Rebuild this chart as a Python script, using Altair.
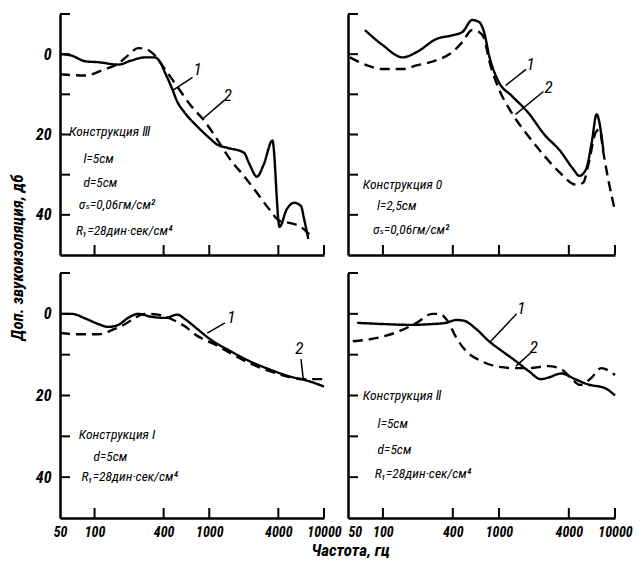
import altair as alt
import pandas as pd

FONT = "Roboto Condensed, Liberation Sans Narrow, DejaVu Sans Condensed, Roboto, sans-serif"

# ---------------- data (frequency, Hz / additional insulation, dB) ----------------
# Panel "Конструкция Ⅲ" (top-left)
tl_f1 = [50, 62, 84, 108, 161, 208, 275, 335, 380, 410, 462, 530, 608, 786, 1015, 1170, 1430, 2000, 2250, 2600, 2980, 3550, 4100, 4700, 5500, 6300, 6700, 7300]
tl_v1 = [0, 0.3, 1.8, 2, 2.6, 1.6, 0.8, 0.8, 2.4, 4.5, 7.8, 12, 14.5, 18, 21, 22.5, 23.3, 24.5, 27.5, 30.5, 27.5, 21.5, 43, 38.8, 37, 37.8, 41, 46]
tl_f2 = [50, 83, 124, 160, 196, 240, 280, 335, 410, 530, 690, 900, 1170, 1520, 2000, 2600, 3350, 4100, 4980, 6100, 8000]
tl_v2 = [5, 5.3, 3.7, 2.4, 0.3, -1.5, -1.3, 0.3, 3.7, 8.2, 12.8, 16.5, 21.2, 26.2, 30.3, 34.5, 38.7, 41.5, 42, 42.8, 45.8]

# Panel "Конструкция 0" (top-right)
tr_f1 = [70, 100, 148, 195, 290, 397, 483, 588, 674, 744, 822, 1000, 1280, 1780, 2460, 3350, 4390, 4920, 5620, 6300, 6940, 7940]
tr_v1 = [-6, -2.2, 0.8, -0.5, -3.8, -4.7, -5.5, -8.5, -8, -5.5, 0.3, 7, 10.3, 14.5, 20, 24, 28.7, 30.3, 28.7, 22, 15, 24]
tr_f2 = [52, 73, 100, 148, 195, 290, 397, 483, 588, 674, 744, 822, 1000, 1280, 1780, 2460, 3350, 4640, 5310, 5950, 6810, 7360, 7940, 8720, 10000]
tr_v2 = [0.8, 2.8, 3.7, 3.7, 2.8, 1.5, -0.5, -3, -6, -5.5, -4, 1.5, 8.7, 14.5, 20.3, 25.3, 29.5, 32.5, 32, 27, 19.5, 18.7, 24.5, 31, 39]

# Panel "Конструкция I" (bottom-left)
bl_f1 = [50, 63, 84, 108, 132, 161, 196, 240, 310, 410, 530, 608, 786, 1015, 1520, 2250, 3350, 4980, 7400, 10000]
bl_v1 = [0, 0, 1.2, 2.5, 3.2, 2.7, 1, 0, 0.7, 1, 0.2, 1.2, 3.7, 6.2, 9.1, 11.6, 13.6, 15.3, 16.5, 17.8]
bl_f2 = [50, 73, 108, 150, 185, 225, 275, 355, 460, 608, 786, 1100, 1520, 2250, 3350, 4700, 6600, 10000]
bl_v2 = [4.7, 5, 5, 3.7, 2.5, 1, 0, 0.2, 1.2, 3, 5.4, 7.4, 9.6, 12.1, 14, 15.3, 16, 16]

# Panel "Конструкция Ⅱ" (bottom-right)
br_f1 = [60, 100, 170, 267, 350, 430, 500, 635, 820, 1060, 1400, 1800, 2300, 2670, 3450, 4530, 5880, 8200, 10000]
br_v1 = [2.2, 2.5, 2.7, 2.5, 2.2, 1.5, 1.7, 3.7, 6.7, 9.1, 11.6, 14, 16, 15.6, 14.6, 16, 17.3, 18.2, 20]
br_f2 = [55, 89, 140, 195, 267, 306, 360, 430, 520, 710, 1000, 1400, 1800, 2670, 3450, 4200, 5000, 6200, 7600, 10000]
br_v2 = [6.7, 5.9, 4.2, 2.2, 0, 0, 1.7, 5.9, 9.1, 11.6, 13, 13.3, 13.3, 12.8, 13.6, 15.8, 17.4, 15.8, 13.3, 15]

# panel notes: (text, freq, dB)
tl_notes_t = ["Конструкция Ⅲ", "l=5см", "d=5см", "σₛ=0,06гм/см²", "R₁=28дин·сек/см⁴"]
tl_notes_f = [60, 80, 80, 73, 69]
tl_notes_v = [19.5, 26, 32, 37.5, 44]
tr_notes_t = ["Конструкция 0", "l=2,5см", "σₛ=0,06гм/см²"]
tr_notes_f = [67, 89, 82]
tr_notes_v = [32.5, 37.8, 43.7]
bl_notes_t = ["Конструкция I", "d=5см", "R₁=28дин·сек/см⁴"]
bl_notes_f = [73, 98, 77]
bl_notes_v = [29.6, 35, 40]
br_notes_t = ["Конструкция Ⅱ", "l=5см", "d=5см", "R₁=28дин·сек/см⁴"]
br_notes_f = [67, 90, 90, 85]
br_notes_v = [20.2, 27, 33.3, 39.3]

# curve markers "1" / "2": label position and leader line (f, v) -> (f2, v2)
tl_lab = {"t": ["1", "2"], "f": [790, 1450], "v": [4, 10.3], "lf": [480, 870], "lv": [9, 16.2], "lf2": [715, 1350], "lv2": [5.8, 11.5]}
tr_lab = {"t": ["1", "2"], "f": [1870, 2680], "v": [2.8, 8.3], "lf": [1140, 1390], "lv": [7.8, 15], "lf2": [1710, 2420], "lv2": [3.8, 9.3]}
bl_lab = {"t": ["1", "2"], "f": [1560, 6100], "v": [1, 8.6], "lf": [960, 6300], "lv": [4.7, 11.1], "lf2": [1370, 6600], "lv2": [2.2, 16]}
br_lab = {"t": ["1", "2"], "f": [1560, 2000], "v": [-1.2, 8.4], "lf": [850, 1400], "lv": [6.7, 12.8], "lf2": [1420, 1870], "lv2": [0, 9.6]}

X_DOMAIN = [50, 10000]
Y_DOMAIN = [-10, 50]
x_tick_vals = [100, 400, 1000, 4000, 10000]
x_label_vals = [50, 100, 400, 1000, 4000, 10000]
y_tick_vals = [-10, 0, 10, 20, 30, 40]
y_label_vals = [0, 20, 40]

Y_TITLE = "Доп. звукоизоляция, дб"
X_TITLE = "Частота, гц"


def panel(f1, v1, f2, v2, nt, nf, nv, lab, w, h, xlab, ylab,
          xtitle=False, ytitle=False, first_left=False):
    xs = alt.Scale(type="log", domain=X_DOMAIN, nice=False)
    ys = alt.Scale(domain=Y_DOMAIN, reverse=True, nice=False, zero=False)

    xa = dict(values=x_label_vals, format="d", labels=xlab, ticks=False, tickSize=0,
              grid=False, domain=True, domainWidth=2.5, domainColor="black",
              labelFont=FONT, labelFontSize=14, labelFontStyle="italic",
              labelFontWeight="bold", labelColor="black", labelPadding=7,
              labelFlush=False, labelOverlap=False, labelBound=False)
    if first_left:
        xa["labelAlign"] = {"condition": {"test": "datum.value <= 50", "value": "left"},
                            "value": "center"}
    if xtitle:
        xa.update(titleX=290, titleY=32, titleAlign="center",
                  titleBaseline="middle", titleFont=FONT, titleFontSize=17,
                  titleFontStyle="italic", titleFontWeight="bold", titleColor="black")
    ya = dict(values=y_label_vals, labels=ylab, ticks=False, tickSize=0, grid=False,
              domain=True, domainWidth=2.5, domainColor="black", labelFont=FONT,
              labelFontSize=16, labelFontStyle="italic", labelFontWeight="bold",
              labelColor="black", labelPadding=9, labelOverlap=False)
    if ytitle:
        ya.update(titleX=-43, titleY=243, titleAlign="center",
                  titleBaseline="middle", titleFont=FONT, titleFontSize=17,
                  titleFontStyle="italic", titleFontWeight="bold", titleColor="black")
    xt_txt = X_TITLE if xtitle else ""
    yt_txt = Y_TITLE if ytitle else ""

    def X(field):
        return alt.X(field, type="quantitative", scale=xs, axis=alt.Axis(**xa), title=xt_txt)

    def Y(field):
        return alt.Y(field, type="quantitative", scale=ys, axis=alt.Axis(**ya), title=yt_txt)

    df = pd.DataFrame({
        "f": f1 + f2, "v": v1 + v2,
        "curve": ["1"] * len(f1) + ["2"] * len(f2),
        "i": list(range(len(f1))) + list(range(len(f2))),
    })
    lines = alt.Chart(df).mark_line(color="black", strokeWidth=2.4, interpolate="monotone").encode(
        x=X("f"), y=Y("v"),
        strokeDash=alt.StrokeDash("curve:N", scale=alt.Scale(domain=["1", "2"], range=[[1, 0], [10, 6]]), legend=None),
        detail="curve:N",
        order="i:Q",
    )

    yt = alt.Chart(pd.DataFrame({"v": y_tick_vals})).mark_rule(color="black", strokeWidth=2).encode(
        y=Y("v"), x=alt.value(0), x2=alt.value(10))
    xt = alt.Chart(pd.DataFrame({"f": x_tick_vals})).mark_rule(color="black", strokeWidth=2).encode(
        x=X("f"), y=alt.value(h), y2=alt.value(h - 10))

    notes = alt.Chart(pd.DataFrame({"t": nt, "f": nf, "v": nv})).mark_text(
        align="left", baseline="middle", font=FONT, fontSize=13.5, fontStyle="italic", color="black"
    ).encode(x=X("f"), y=Y("v"), text="t:N")

    ldf = pd.DataFrame(lab)
    leaders = alt.Chart(ldf).mark_rule(color="black", strokeWidth=1.5).encode(
        x=X("lf"), y=Y("lv"), x2="lf2:Q", y2="lv2:Q")
    labels = alt.Chart(ldf).mark_text(
        align="center", baseline="middle", font=FONT, fontSize=17, fontStyle="italic", color="black"
    ).encode(x=X("f"), y=Y("v"), text="t:N")

    return alt.layer(lines, yt, xt, notes, leaders, labels).properties(width=w, height=h)


TL = panel(tl_f1, tl_v1, tl_f2, tl_v2, tl_notes_t, tl_notes_f, tl_notes_v, tl_lab,
           264, 241, False, True, ytitle=True)
TR = panel(tr_f1, tr_v1, tr_f2, tr_v2, tr_notes_t, tr_notes_f, tr_notes_v, tr_lab,
           267, 241, False, False)
BL = panel(bl_f1, bl_v1, bl_f2, bl_v2, bl_notes_t, bl_notes_f, bl_notes_v, bl_lab,
           264, 245, True, True, xtitle=True)
BR = panel(br_f1, br_v1, br_f2, br_v2, br_notes_t, br_notes_f, br_notes_v, br_lab,
           267, 245, True, False, first_left=True)

chart = alt.concat(TL, TR, BL, BR, columns=2, spacing={"row": 18, "column": 24},
                   bounds="flush").properties(
    padding={"left": 0, "top": 5, "right": 0, "bottom": 0},
    background="white",
).resolve_scale(x="independent", y="independent").configure_view(strokeWidth=0)

chart.save("out.html", embed_options={"renderer": "svg", "actions": False})
